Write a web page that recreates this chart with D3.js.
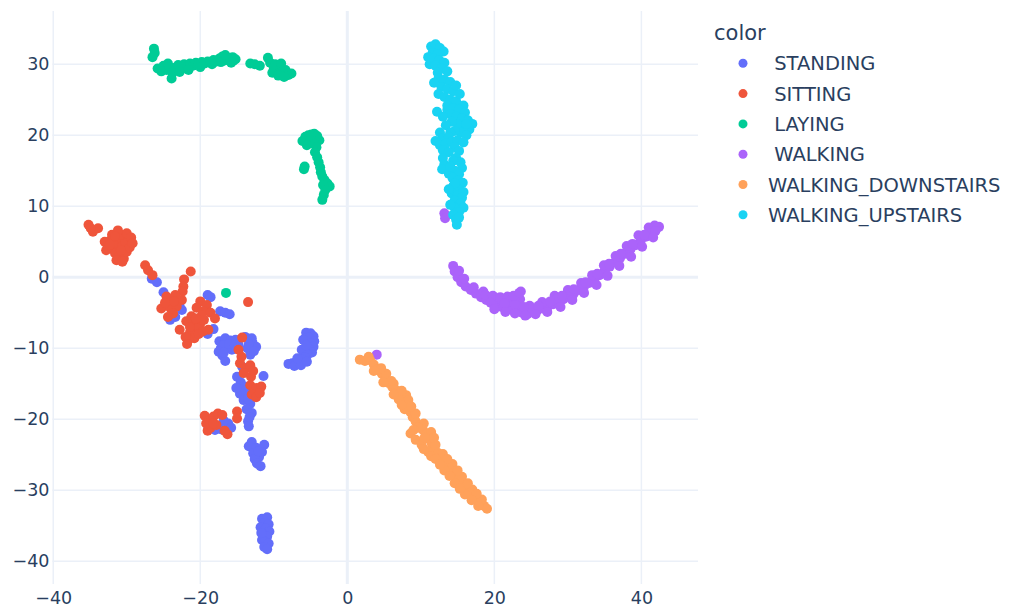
<!DOCTYPE html>
<html>
<head>
<meta charset="utf-8">
<script src="https://cdn.jsdelivr.net/npm/d3@7"></script>
<style>
  html, body { margin: 0; padding: 0; background: #fff; }
  text { font-family: "DejaVu Sans", verdana, arial, sans-serif; fill: #2a3f5f; white-space: pre; }
</style>
</head>
<body>
<svg id="chart" width="1011" height="608"></svg>
<script>
const categories = [" STANDING", " SITTING", " LAYING", " WALKING", "WALKING_DOWNSTAIRS", "WALKING_UPSTAIRS"];
const colors = ["#636efa", "#EF553B", "#00cc96", "#ab63fa", "#FFA15A", "#19d3f3"];
const xTicks = [-40, -20, 0, 20, 40];
const yTicks = [-40, -30, -20, -10, 0, 10, 20, 30];

const standingPoints = [
  [-26.6,-0.2],[-25.9,-0.7],[-25.0,-2.1],[-24.3,-3.2],[-22.8,-4.1],[-22.5,-4.6],[-24.1,-6.0],[-23.4,-5.6],
  [-19.0,-2.5],[-18.6,-2.8],[-17.3,-4.8],[-16.6,-5.0],[-16.0,-5.2],[-18.2,-7.3],[-21.6,-8.6],[-19.0,-8.0],
  [-17.4,-9.0],[-16.6,-8.6],[-15.9,-8.9],[-17.2,-10.0],[-16.4,-9.8],[-15.7,-10.2],[-17.0,-11.0],[-16.6,-11.8],
  [-15.2,-8.8],[-14.8,-9.5],[-13.9,-8.4],[-12.9,-9.2],[-13.6,-10.0],[-13.2,-10.9],[-12.4,-9.8],[-13.0,-8.6],
  [-16.9,-9.6],[-16.1,-9.4],[-17.5,-10.5],[-16.8,-10.6],[-15.3,-9.6],[-13.4,-9.4],[-12.7,-10.4],
  [-11.4,-13.9],[-15.0,-14.0],[-14.5,-14.8],[-14.0,-15.4],[-14.6,-16.4],[-13.8,-16.0],[-15.1,-15.6],[-14.1,-17.3],
  [-13.2,-17.8],[-13.7,-18.6],[-13.0,-19.1],[-13.5,-20.3],[-13.4,-21.0],[-14.3,-12.6],[-13.5,-17.1],[-13.3,-19.7],
  [-16.2,-20.6],[-15.8,-21.2],[-16.8,-20.2],[-17.2,-21.4],[-18.0,-21.5],[-18.9,-21.1],
  [-13.0,-23.2],[-13.4,-23.8],[-12.4,-24.0],[-11.3,-23.6],[-11.6,-24.6],[-12.8,-24.8],[-12.0,-25.3],[-12.6,-25.6],
  [-12.3,-26.2],[-11.8,-26.6],[-12.1,-24.5],
  [-11.6,-34.0],[-10.9,-33.8],[-11.3,-34.6],[-10.7,-34.8],[-11.8,-35.2],[-11.1,-35.4],[-10.6,-35.8],[-11.5,-36.2],
  [-10.9,-36.5],[-11.6,-37.0],[-11.2,-37.3],[-10.7,-37.5],[-11.3,-38.0],[-10.9,-38.3],[-11.7,-36.0],
  [-5.6,-7.8],[-5.0,-7.9],[-4.6,-8.3],[-5.3,-8.5],[-6.0,-8.8],[-4.5,-9.0],[-5.0,-9.3],[-4.6,-9.8],[-5.2,-10.1],
  [-6.2,-10.2],[-4.8,-10.6],[-5.9,-10.6],[-5.4,-10.9],[-5.8,-11.3],[-6.2,-11.6],[-6.6,-11.9],[-7.0,-12.0],
  [-7.5,-12.1],[-8.0,-12.2],[-7.2,-12.5],[-6.3,-12.4],[-5.5,-11.9],[-5.6,-9.6],[-6.8,-11.4]
];

const sittingPoints = [
  [-35.2,7.4],[-34.6,6.4],[-33.9,6.9],[-34.9,6.9],
  [-33.0,5.0],[-32.6,4.4],[-32.2,5.2],[-31.8,4.0],[-31.4,4.8],[-31.0,5.6],[-30.6,4.4],[-30.2,5.0],[-31.6,3.4],
  [-31.0,3.0],[-30.4,2.6],[-31.4,2.4],[-30.0,3.6],[-29.6,4.2],[-30.8,6.0],[-30.0,6.2],[-29.4,5.6],[-32.0,6.0],
  [-31.2,6.6],[-32.8,3.8],[-29.2,4.8],[-30.6,2.2],[-32.3,4.6],[-30.8,3.8],[-31.6,5.8],
  [-27.5,1.7],[-27.1,1.0],[-26.5,0.3],[-21.3,0.8],[-22.2,-0.3],[-22.3,-1.3],[-22.4,-2.0],
  [-24.6,-2.7],[-23.4,-2.5],[-22.5,-3.2],[-25.3,-4.4],[-24.1,-4.3],[-23.2,-4.1],[-23.7,-5.1],[-24.4,-5.6],
  [-22.8,-7.4],[-23.6,-3.4],[-24.8,-3.6],
  [-20.0,-3.4],[-19.1,-3.9],[-20.5,-4.3],[-19.6,-4.8],[-21.2,-5.5],[-18.6,-5.0],[-18.0,-5.8],[-20.0,-6.5],
  [-19.5,-6.0],[-21.0,-6.4],[-20.4,-7.2],[-18.9,-7.4],[-21.4,-7.8],[-20.8,-8.6],[-21.6,-8.8],[-22.0,-8.4],
  [-21.8,-9.4],[-19.8,-5.4],[-21.9,-6.2],[-21.4,-7.0],[-19.6,-7.6],[-20.6,-5.8],[-20.2,-8.0],
  [-13.5,-3.5],
  [-14.3,-8.5],[-14.8,-10.2],[-14.4,-11.2],[-14.6,-12.1],[-13.8,-12.8],[-13.2,-12.4],[-14.1,-13.5],[-13.1,-14.0],
  [-12.8,-13.2],[-13.2,-15.2],[-12.4,-15.6],[-11.7,-15.4],[-13.0,-16.5],[-12.4,-16.9],[-11.9,-16.3],
  [-15.0,-18.9],[-15.0,-19.9],
  [-19.4,-19.5],[-18.8,-20.2],[-18.2,-19.6],[-17.6,-19.2],[-17.0,-19.4],[-18.6,-21.2],[-19.0,-21.6],[-17.8,-20.8],
  [-16.3,-22.1],[-16.7,-21.6],[-19.2,-20.6],[-18.2,-20.6]
];

const layingPoints = [
  [-26.3,32.2],[-26.5,31.0],[-26.2,31.6],
  [-25.8,29.4],[-25.3,29.0],[-25.0,29.8],[-24.6,29.2],[-24.2,29.6],[-23.8,28.8],[-23.9,28.0],[-23.4,29.5],
  [-23.0,29.9],[-22.6,29.3],[-22.2,30.0],[-21.8,29.6],[-21.4,30.1],[-21.0,29.8],[-20.6,30.2],[-20.2,30.0],
  [-19.8,30.3],[-19.4,30.1],[-19.0,30.4],[-18.6,30.3],[-18.2,30.6],[-17.8,30.4],[-17.4,30.8],[-17.0,31.1],
  [-16.8,30.5],[-16.4,30.9],[-16.0,30.6],[-15.6,31.0],[-15.2,30.7],[-17.2,30.3],[-15.5,30.5],
  [-24.4,30.1],[-22.8,28.9],[-21.6,29.2],[-20.0,29.6],[-18.4,30.0],[-16.6,31.3],[-15.8,30.2],
  [-13.2,30.1],[-12.6,30.0],[-11.9,29.8],[-10.8,30.9],[-10.5,30.2],[-10.0,29.5],[-9.6,29.0],[-9.2,29.6],
  [-8.8,28.8],[-8.4,29.2],[-8.0,28.5],[-7.6,28.7],[-10.2,28.8],[-9.4,28.4],[-8.6,28.2],[-9.8,30.0],[-9.0,30.1],
  [-6.1,19.2],[-5.7,19.8],[-5.3,20.0],[-4.9,20.1],[-4.5,20.2],[-4.1,19.9],[-3.8,19.3],[-5.0,19.3],[-4.5,18.8],
  [-5.5,18.6],[-4.2,18.3],[-4.4,17.6],[-4.1,16.9],[-3.9,16.2],[-3.7,15.5],[-3.6,14.8],[-3.4,14.2],[-3.1,13.7],
  [-2.7,13.2],[-2.4,12.8],[-3.3,13.0],[-3.0,12.3],[-3.2,11.6],[-3.4,10.9],[-5.8,15.6],[-5.9,15.2],
  [-16.5,-2.2]
];

const walkingPoints = [
  [14.4,1.6],[14.6,0.8],[15.0,0.0],[15.5,-0.7],[16.1,-1.3],[16.8,-1.8],[17.5,-2.3],[18.2,-2.8],[18.9,-3.2],
  [19.6,-3.6],[20.3,-3.9],[21.0,-4.2],[21.7,-4.4],[22.4,-4.6],[23.1,-4.8],[23.8,-5.0],[24.5,-5.2],[25.2,-4.9],
  [25.9,-4.6],[26.6,-4.4],[27.3,-4.1],[28.0,-3.8],[28.7,-3.5],[29.4,-3.1],[30.1,-2.7],[30.8,-2.3],[31.5,-1.8],
  [32.2,-1.3],[32.9,-0.8],[33.6,-0.3],[34.3,0.3],[35.0,0.9],[35.7,1.5],[36.4,2.1],[37.1,2.7],[37.8,3.3],
  [38.5,3.9],[39.2,4.5],[39.9,5.1],[40.6,5.7],[41.3,6.3],[42.0,6.8],[42.4,7.1],
  [18.5,-2.0],[19.8,-2.7],[21.0,-3.2],[22.2,-3.4],[23.5,-3.1],[23.6,-2.0],[22.8,-2.8],[24.8,-4.0],[26.5,-3.5],
  [28.2,-2.6],[28.5,-3.0],[30.0,-1.8],[31.8,-0.8],[33.3,0.3],[34.9,1.7],[36.5,3.0],[38.0,4.4],[39.6,5.9],
  [41.0,7.0],[41.8,7.3],
  [18.8,-2.5],[19.8,-2.6],[20.8,-2.8],[21.8,-2.7],[22.6,-2.6],[23.4,-2.2],[19.5,-3.6],[21.4,-3.7],[22.9,-3.9],[24.0,-4.2],
  [26.0,-4.0],[27.6,-3.4],[29.2,-2.6],[30.8,-1.7],[32.4,-0.7],[34.0,0.5],[35.6,1.9],[37.2,3.3],[38.8,4.7],
  [40.4,6.0],[41.9,6.5],[15.2,0.9],[15.9,-0.2],[17.2,-1.4],
  [20.0,-4.5],[21.5,-4.9],[22.8,-5.1],[24.2,-5.4],[25.6,-5.2],[27.2,-4.9],[29.0,-4.2],[30.6,-3.2],[32.2,-2.2],
  [33.9,-1.1],[35.4,0.2],[37.0,1.6],[38.6,2.9],[40.1,4.3],[41.6,5.6],
  [4.0,-10.9],[13.2,9.0],[13.3,8.3]
];

const downstairsPoints = [
  [1.7,-11.6],[2.4,-11.8],[3.1,-11.7],[3.6,-12.3],[4.1,-13.0],[4.7,-13.6],[5.2,-14.3],[5.6,-14.9],[6.1,-15.4],
  [6.6,-15.9],[7.1,-16.4],[7.5,-17.1],[7.9,-17.7],[8.2,-18.4],[8.6,-19.0],[8.9,-19.7],[9.3,-20.3],[9.8,-20.9],
  [10.3,-21.5],[10.7,-22.1],[11.1,-22.8],[11.5,-23.5],[11.9,-24.2],[12.4,-24.8],[12.9,-25.4],[13.4,-26.0],
  [13.9,-26.6],[14.4,-27.2],[14.8,-27.8],[15.2,-28.4],[15.6,-29.0],[16.1,-29.6],[16.6,-30.2],[17.1,-30.8],
  [17.6,-31.3],[18.1,-31.8],[18.6,-32.2],[19.0,-32.6],
  [6.3,-15.0],[8.0,-16.6],[8.3,-17.3],[5.3,-13.6],[7.0,-17.2],[7.8,-18.6],[9.3,-19.2],
  [2.9,-11.2],[4.6,-12.8],[6.0,-14.6],[7.4,-16.0],[8.7,-18.2],[3.6,-13.2],[4.9,-14.8],[6.3,-16.5],[7.4,-18.0],
  [10.4,-20.6],[11.4,-21.8],[9.6,-21.2],[8.6,-22.0],[9.3,-22.9],[10.1,-23.6],[11.0,-24.6],[12.0,-23.6],
  [9.0,-21.5],[10.5,-22.6],[11.8,-22.6],[10.4,-24.2],[11.4,-25.2],
  [13.0,-24.9],[14.3,-26.3],[15.6,-28.1],[17.0,-29.9],[18.3,-31.3],[13.6,-25.6],[15.0,-27.2],[16.4,-29.0],[17.6,-30.5],
  [12.0,-25.6],[13.2,-27.2],[14.6,-29.0],[16.0,-30.6],[17.8,-32.2],[12.6,-26.4],[13.9,-28.0],[15.3,-29.8],[16.9,-31.4]
];

const upstairsPoints = [
  [11.4,32.5],[12.0,32.8],[12.6,32.3],[13.1,31.8],[11.6,31.6],[12.3,31.4],[11.0,31.0],[11.2,30.0],
  [11.8,30.8],[12.5,30.6],[13.2,30.2],[12.0,29.8],[12.8,29.4],[13.6,29.0],[12.3,28.8],
  [12.4,28.0],[13.2,27.8],[14.0,27.5],[12.8,26.8],[13.6,26.5],[14.4,26.2],[12.4,25.8],[13.2,25.4],[14.0,25.0],
  [14.8,24.8],[15.3,25.8],[12.2,23.3],[14.8,27.0],[11.8,27.4],[15.8,24.2],[13.6,23.6],
  [13.6,24.2],[14.4,23.8],[15.2,23.6],[16.0,23.2],[14.0,23.0],[14.8,22.6],[15.6,22.4],[16.4,22.1],[17.0,21.6],
  [16.6,20.8],[15.8,21.2],[15.0,21.6],[14.2,21.9],[15.4,20.4],[16.2,20.0],[14.6,20.6],
  [13.0,22.6],[13.4,21.4],[12.6,20.4],[14.0,20.4],[16.2,21.6],
  [13.0,19.6],[13.8,19.8],[12.0,19.2],[12.6,18.6],[13.4,18.8],[14.2,19.1],[15.0,19.3],[15.8,19.0],[14.6,18.3],
  [13.0,17.9],[13.8,17.6],[15.2,17.8],
  [13.0,16.8],[13.2,15.9],[12.9,15.2],[14.8,16.8],[15.4,16.2],[15.6,15.4],[14.6,15.0],[13.8,14.6],[15.2,14.5],
  [14.4,16.4],[14.0,15.6],
  [14.3,14.0],[15.0,13.6],[15.7,13.3],[14.4,12.8],[15.2,12.4],[14.2,11.8],[15.0,11.5],[14.6,13.2],[13.8,12.4],[15.8,12.0],
  [15.6,11.2],[14.6,10.8],[15.4,10.4],[15.8,9.8],[14.6,9.8],[15.2,9.2],[14.4,8.8],[14.8,8.1],[14.9,7.4],[14.0,10.2],[15.2,8.4]
];

const seriesPoints = [standingPoints, sittingPoints, layingPoints, walkingPoints, downstairsPoints, upstairsPoints];

const svg = d3.select("#chart");
const x = d3.scaleLinear().domain([-40.1, 47.7]).range([52.5, 698]);
const y = d3.scaleLinear().domain([-43.2, 37.5]).range([584, 11]);
const fmt = d => d < 0 ? "\u2212" + Math.abs(d) : String(d);
const gridColor = "#EBF0F8";

// gridlines
svg.append("g").selectAll("line").data(xTicks).join("line")
  .attr("x1", d => x(d)).attr("x2", d => x(d))
  .attr("y1", y.range()[1]).attr("y2", y.range()[0])
  .attr("stroke", gridColor).attr("stroke-width", d => d === 0 ? 3 : 1.5);
svg.append("g").selectAll("line").data(yTicks).join("line")
  .attr("y1", d => y(d)).attr("y2", d => y(d))
  .attr("x1", x.range()[0]).attr("x2", x.range()[1])
  .attr("stroke", gridColor).attr("stroke-width", d => d === 0 ? 3 : 1.5);

// axes (labels only)
const xAxis = svg.append("g").attr("transform", `translate(0,${y.range()[0]})`)
  .call(d3.axisBottom(x).tickValues(xTicks).tickFormat(fmt).tickSize(0).tickPadding(8));
const yAxis = svg.append("g").attr("transform", `translate(${x.range()[0]},0)`)
  .call(d3.axisLeft(y).tickValues(yTicks).tickFormat(fmt).tickSize(0).tickPadding(3));
[xAxis, yAxis].forEach(a => {
  a.select(".domain").remove();
  a.selectAll("text").attr("fill", "#2a3f5f").style("font-size", "17.5px")
    .style("font-family", '"DejaVu Sans", verdana, arial, sans-serif');
});

// points
seriesPoints.forEach((pts, i) => {
  svg.append("g").selectAll("circle").data(pts).join("circle")
    .attr("cx", d => x(d[0])).attr("cy", d => y(d[1])).attr("r", 5)
    .attr("fill", colors[i]);
});

// legend
const legend = svg.append("g");
legend.append("text").attr("x", 714).attr("y", 40).style("font-size", "21px").text("color");
categories.forEach((c, i) => {
  const cy = 63.3 + i * 30.3;
  legend.append("circle").attr("cx", 743).attr("cy", cy).attr("r", 4.5).attr("fill", colors[i]);
  legend.append("text").attr("x", 768).attr("y", cy + 7).style("font-size", "19.5px")
    .attr("xml:space", "preserve").text(c);
});
</script>
</body>
</html>
